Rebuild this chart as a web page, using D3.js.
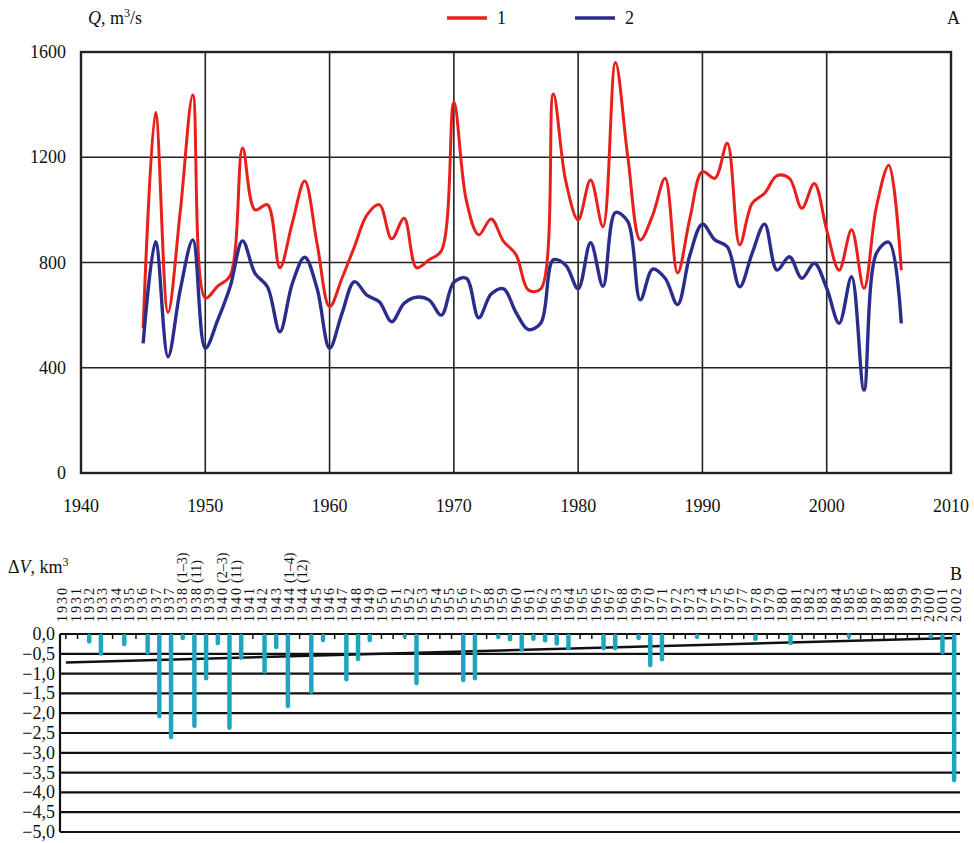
<!DOCTYPE html>
<html>
<head>
<meta charset="utf-8">
<script src="https://cdn.jsdelivr.net/npm/d3@7"></script>
<style>
  body { margin: 0; background: #fff; }
  text { font-family: "Liberation Serif", "Times New Roman", serif; fill: #111; }
</style>
</head>
<body>
<svg id="chart" width="974" height="843"></svg>
<script>
// --- panel A: discharge, m3/s ---
var years = [1945, 1946, 1947, 1948, 1949, 1950, 1951, 1952, 1953, 1954, 1955, 1956, 1957, 1958, 1959,
  1960, 1961, 1962, 1963, 1964, 1965, 1966, 1967, 1968, 1969, 1970, 1971, 1972, 1973, 1974, 1975,
  1976, 1977, 1978, 1979, 1980, 1981, 1982, 1983, 1984, 1985, 1986, 1987, 1988, 1989, 1990, 1991,
  1992, 1993, 1994, 1995, 1996, 1997, 1998, 1999, 2000, 2001, 2002, 2003, 2004, 2005, 2006];
var series1 = [550, 1370, 610, 1000, 1437, 665, 710, 750, 1235, 1000, 1020, 780, 950, 1110, 870,
  632, 740, 860, 980, 1020, 890, 968, 780, 810, 845, 1410, 1037, 905, 965, 880, 830,
  695, 700, 1440, 1110, 962, 1114, 936, 1560, 1200, 886, 980, 1120, 760, 970, 1145, 1120,
  1253, 867, 1025, 1063, 1130, 1120, 1006, 1100, 923, 771, 924, 702, 1012, 1170, 771];
var series2 = [493, 879, 442, 700, 886, 474, 581, 708, 882, 759, 708, 537, 720, 820, 700,
  474, 607, 727, 676, 651, 575, 645, 668, 658, 600, 725, 740, 590, 680, 700, 610,
  545, 570, 810, 790, 700, 875, 710, 990, 955, 658, 775, 740, 640, 830, 946, 886,
  860, 708, 835, 946, 771, 822, 740, 797, 702, 569, 746, 315, 835, 877, 569];
var xTicksA = [1940, 1950, 1960, 1970, 1980, 1990, 2000, 2010];
var yTicksA = [0, 400, 800, 1200, 1600];

// --- panel B: volume deficit, km3 ---
// bar categories (years, split years appear twice)
var periodsB = ['1930', '1931', '1932', '1933', '1934', '1935', '1936', '1937', '1937b',
  '1938a', '1938b', '1939', '1940a', '1940b', '1941', '1942', '1943', '1944a', '1944b',
  '1945', '1946', '1947', '1948', '1949', '1950', '1951', '1952', '1953', '1954', '1955',
  '1956', '1957', '1958', '1959', '1960', '1961', '1962', '1963', '1964', '1965', '1966',
  '1967', '1968', '1969', '1970', '1971', '1972', '1973', '1974', '1975', '1976', '1977',
  '1978', '1979', '1980', '1981', '1982', '1983', '1984', '1985', '1986', '1987', '1988',
  '1989', '1990', '1991', '1992', '1993', '1994', '1995', '1996', '1997', '1998', '1999',
  '2000', '2001', '2002'];
var deficit = [0, 0, -0.19, -0.49, 0, -0.25, 0, -0.47, -2.07,
  -2.6, -0.1, -2.32, -1.12, -0.23, -2.37, -0.6, 0, -0.95, -0.33,
  -1.82, 0, -1.46, -0.15, 0, -1.14, -0.63, -0.15, 0, 0, -0.05,
  -1.24, 0, 0, 0, -1.16, -1.12, 0, -0.07, -0.13, -0.4, -0.12,
  -0.16, -0.24, -0.36, 0, 0, -0.36, -0.36, 0, -0.1, -0.78, -0.64,
  0, 0, -0.07, 0, 0, 0, 0, -0.12, 0, 0, -0.23,
  0, 0, 0, 0, -0.04, 0, 0, 0, 0, 0, 0,
  -0.06, -0.46, -3.69];
// label strip as printed
var labelsB = ['1930', '1931', '1932', '1933', '1934', '1935', '1936', '1937', '1937', '1938', '1938',
  '1939', '1940', '1940', '1941', '1942', '1943', '1944', '1944', '1945', '1946', '1947', '1948',
  '1949', '1950', '1951', '1952', '1953', '1954', '1955', '1956', '1957', '1958', '1959', '1960',
  '1961', '1962', '1963', '1964', '1965', '1966', '1967', '1968', '1969', '1970', '1971', '1972',
  '1973', '1974', '1975', '1976', '1977', '1978', '1979', '1980', '1981', '1982', '1983', '1984',
  '1985', '1986', '1987', '1988', '1989', '1999', '2000', '2001', '2002'];
var notes = [[9, '(1–3)'], [10, '(11)'], [12, '(2–3)'], [13, '(11)'], [17, '(1–4)'], [18, '(12)']];
var trend = [-0.72, -0.1];
var yTicksB = [0, -0.5, -1, -1.5, -2, -2.5, -3, -3.5, -4, -4.5, -5];

var svg = d3.select('#chart');

// ===== A =====
var xA = d3.scaleLinear().domain([1940, 2010]).range([81, 951]);
var yA = d3.scaleLinear().domain([0, 1600]).range([473, 52]);
var gA = svg.append('g');

gA.selectAll('line.vg').data(xTicksA.slice(1, -1)).enter().append('line')
  .attr('x1', function (d) { return xA(d); }).attr('x2', function (d) { return xA(d); })
  .attr('y1', yA(0)).attr('y2', yA(1600))
  .style('stroke', '#222').style('stroke-width', 1.6);
gA.selectAll('line.hg').data(yTicksA.slice(1, -1)).enter().append('line')
  .attr('x1', xA(1940)).attr('x2', xA(2010))
  .attr('y1', function (d) { return yA(d); }).attr('y2', function (d) { return yA(d); })
  .style('stroke', '#222').style('stroke-width', 1.6);
gA.append('rect').attr('x', xA(1940)).attr('y', yA(1600))
  .attr('width', xA(2010) - xA(1940)).attr('height', yA(0) - yA(1600))
  .style('fill', 'none').style('stroke', '#222').style('stroke-width', 2.4);

gA.selectAll('text.yt').data(yTicksA).enter().append('text')
  .attr('x', 66).attr('y', function (d) { return yA(d) + 6; })
  .attr('text-anchor', 'end').style('font-size', '18px').text(function (d) { return d; });
gA.selectAll('text.xt').data(xTicksA).enter().append('text')
  .attr('x', function (d) { return xA(d); }).attr('y', 512)
  .attr('text-anchor', 'middle').style('font-size', '18px').text(function (d) { return d; });

var line = d3.line().curve(d3.curveCatmullRom.alpha(0.5))
  .x(function (d) { return xA(d[0]); }).y(function (d) { return yA(d[1]); });
gA.append('path').datum(d3.zip(years, series1)).attr('d', line)
  .style('fill', 'none').style('stroke', '#e8201c').style('stroke-width', 3);
gA.append('path').datum(d3.zip(years, series2)).attr('d', line)
  .style('fill', 'none').style('stroke', '#2a2d8c').style('stroke-width', 3.4);

// title + legend
var tq = gA.append('text').attr('x', 88).attr('y', 24).style('font-size', '18px');
tq.append('tspan').style('font-style', 'italic').text('Q');
tq.append('tspan').text(', m');
tq.append('tspan').attr('dy', -7).style('font-size', '12px').text('3');
tq.append('tspan').attr('dy', 7).text('/s');
[['1', '#e8201c', 447], ['2', '#2a2d8c', 575]].forEach(function (l) {
  gA.append('line').attr('x1', l[2]).attr('x2', l[2] + 40).attr('y1', 18).attr('y2', 18)
    .style('stroke', l[1]).style('stroke-width', 3.4);
  gA.append('text').attr('x', l[2] + 50).attr('y', 24).style('font-size', '18px').text(l[0]);
});
gA.append('text').attr('x', 960).attr('y', 24).attr('text-anchor', 'end').style('font-size', '18px').text('A');

// ===== B =====
var xB = d3.scaleBand().domain(periodsB).range([60, 960]);
var xL = d3.scaleBand().domain(d3.range(labelsB.length)).range([56, 963]);
var yB = d3.scaleLinear().domain([-5, 0]).range([832, 634]);
var cx = function (p) { return xB(p) + xB.bandwidth() / 2; };
var lx = function (i) { return xL(i) + xL.bandwidth() / 2; };
var gB = svg.append('g');

gB.selectAll('line.hg').data(yTicksB.slice(1)).enter().append('line')
  .attr('x1', 60).attr('x2', 960)
  .attr('y1', function (d) { return yB(d); }).attr('y2', function (d) { return yB(d); })
  .style('stroke', '#111').style('stroke-width', 2.2);
gB.append('line').attr('x1', 60).attr('x2', 960).attr('y1', yB(0)).attr('y2', yB(0))
  .style('stroke', '#111').style('stroke-width', 2.2);
gB.append('line').attr('x1', 60).attr('x2', 60).attr('y1', yB(0)).attr('y2', yB(-5))
  .style('stroke', '#111').style('stroke-width', 2.2);
gB.selectAll('line.tk').data(periodsB).enter().append('line')
  .attr('x1', function (d) { return cx(d); }).attr('x2', function (d) { return cx(d); })
  .attr('y1', yB(0)).attr('y2', yB(0) + 5)
  .style('stroke', '#111').style('stroke-width', 1.5);

gB.selectAll('text.yt').data(yTicksB).enter().append('text')
  .attr('x', 55).attr('y', function (d) { return yB(d) + 6; })
  .attr('text-anchor', 'end').style('font-size', '18px')
  .text(function (d) { return (d < 0 ? '−' : '') + Math.abs(d).toFixed(1).replace('.', ','); });

gB.selectAll('text.xl').data(labelsB).enter().append('text')
  .attr('transform', function (d, i) { return 'translate(' + (lx(i) + 4.5) + ',622) rotate(-90)'; })
  .style('font-size', '14px').attr('textLength', 34).text(function (d) { return d; });
gB.selectAll('text.nt').data(notes).enter().append('text')
  .attr('transform', function (d) { return 'translate(' + (lx(d[0]) + 4.5) + ',583) rotate(-90)'; })
  .style('font-size', '14px').text(function (d) { return d[1]; });

gB.append('line')
  .attr('x1', cx(periodsB[0])).attr('x2', cx(periodsB[periodsB.length - 1]))
  .attr('y1', yB(trend[0])).attr('y2', yB(trend[1]))
  .style('stroke', '#111').style('stroke-width', 2.6);

var bars = d3.zip(periodsB, deficit).filter(function (d) { return d[1] < 0; });
gB.selectAll('line.bar').data(bars).enter().append('line')
  .attr('x1', function (d) { return cx(d[0]); }).attr('x2', function (d) { return cx(d[0]); })
  .attr('y1', yB(0) + 2).attr('y2', function (d) { return yB(d[1]); })
  .style('stroke', '#1ea6bf').style('stroke-width', 4.5).style('stroke-linecap', 'round');

var tv = gB.append('text').attr('x', 8).attr('y', 573).style('font-size', '18px');
tv.append('tspan').text('Δ');
tv.append('tspan').style('font-style', 'italic').text('V');
tv.append('tspan').text(', km');
tv.append('tspan').attr('dy', -7).style('font-size', '12px').text('3');
gB.append('text').attr('x', 962).attr('y', 580).attr('text-anchor', 'end').style('font-size', '18px').text('B');
</script>
</body>
</html>
